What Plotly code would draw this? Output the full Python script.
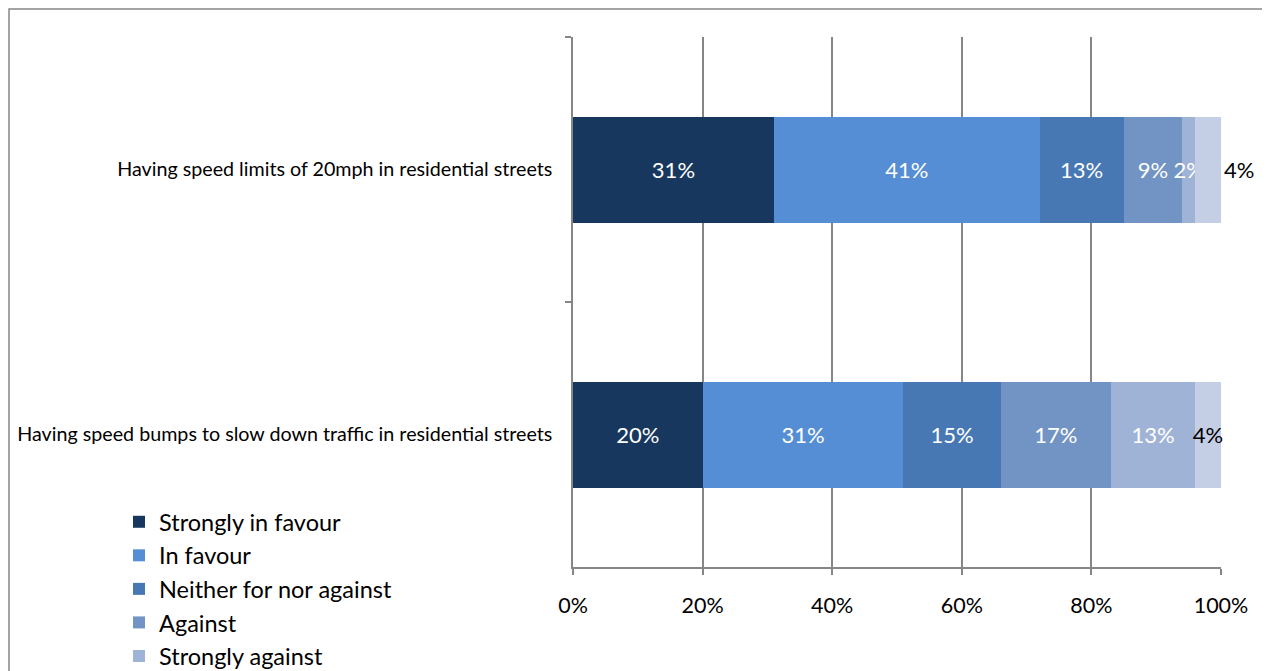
import plotly.graph_objects as go

categories = ["Having speed limits of 20mph in residential streets",
              "Having speed bumps to slow down traffic in residential streets"]
series_names = ["Strongly in favour", "In favour", "Neither for nor against",
                "Against", "Strongly against", "Don't know"]
strongly_in_favour = [31, 20]
in_favour = [41, 31]
neither = [13, 15]
against = [9, 17]
strongly_against = [2, 13]
dont_know = [4, 4]
x_ticks = [0, 20, 40, 60, 80, 100]
x_tick_labels = ["0%", "20%", "40%", "60%", "80%", "100%"]

values = [strongly_in_favour, in_favour, neither, against, strongly_against, dont_know]
colors = ["#17375E", "#558ED5", "#4878B4", "#7294C4", "#9FB3D6", "#C4CEE4"]

FONT = "Lato"
fig = go.Figure()
for i, (name, vals, col) in enumerate(zip(series_names, values, colors)):
    last = (i == len(series_names) - 1)
    fig.add_trace(go.Bar(
        y=categories, x=vals, name=name, orientation="h",
        marker=dict(color=col, line=dict(width=0)),
        text=[f"{v}%" for v in vals],
        textposition=(["outside", "inside"] if last else "inside"),
        textangle=0,
        insidetextanchor="middle",
        insidetextfont=dict(color="black" if last else "white", size=22, family=FONT),
        outsidetextfont=dict(color="black", size=22, family=FONT),
        cliponaxis=False,
        showlegend=not last,
        hoverinfo="skip",
    ))

# figure sits 8px inside the page (body margin)
W, H = 1262, 663
L, R, T, B = 565, 49, 29, 104
pw, ph = W - L - R, H - T - B

def px2x(px):
    return (px - L) / pw

def py2y(py):
    return (H - B - py) / ph

fig.update_layout(
    width=W, height=H,
    barmode="stack", bargap=0.6,
    margin=dict(l=L, r=R, t=T, b=B, autoexpand=False),
    paper_bgcolor="white", plot_bgcolor="white",
    font=dict(family=FONT, color="black"),
    uniformtext=dict(minsize=22, mode="show"),
    legend=dict(
        x=px2x(111), y=py2y(492), xanchor="left", yanchor="top",
        font=dict(size=23.5, family=FONT, color="black"),
        traceorder="normal", tracegroupgap=0, itemwidth=30,
        bgcolor="rgba(0,0,0,0)",
    ),
    xaxis=dict(
        range=[0, 100], tickvals=x_ticks, ticktext=x_tick_labels,
        showgrid=True, gridcolor="#868686", gridwidth=1.5,
        showline=True, linecolor="#868686", linewidth=1.5,
        ticks="outside", ticklen=6, tickcolor="#868686", tickwidth=1.5,
        tickfont=dict(size=21.5, family=FONT, color="black"),
        ticklabelstandoff=12, zeroline=False, fixedrange=True,
    ),
    yaxis=dict(
        autorange="reversed", type="category",
        showgrid=False, showline=True, linecolor="#868686", linewidth=1.5,
        ticks="outside", tickson="boundaries", ticklen=6,
        tickcolor="#868686", tickwidth=1.5,
        tickfont=dict(size=19.7, family=FONT, color="black"),
        ticklabelstandoff=15, fixedrange=True,
    ),
    shapes=[dict(type="rect", xref="paper", yref="paper",
                 x0=px2x(1), x1=px2x(1257), y0=py2y(700), y1=py2y(1),
                 line=dict(color="#868686", width=1.5), layer="below")],
)

fig.write_html("out.html")
